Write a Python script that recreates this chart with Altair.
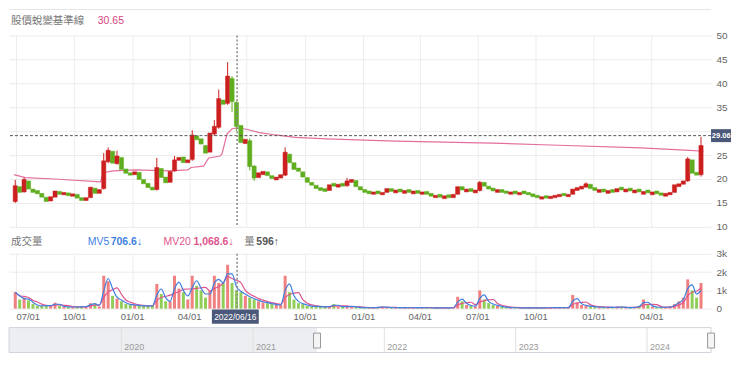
import altair as alt
import pandas as pd

# ---------------- data (weekly candles) ----------------
WEEK0 = "2021-06-30"

opens = [
    15.3, 18.4, 17.3, 19.6, 17.9, 17.6, 17.0, 16.2, 15.4, 16.2,
    17.4, 16.7, 17.1, 16.4, 16.8, 16.1, 15.5, 16.1, 18.1, 17.0,
    18.0, 23.6, 25.8, 23.2, 24.5, 22.1, 21.3, 20.9, 21.4, 19.9,
    19.1, 18.3, 17.8, 22.2, 20.4, 19.3, 21.7, 23.9, 24.6, 23.4,
    24.1, 29.0, 28.4, 27.0, 25.6, 29.4, 30.8, 36.5, 35.8, 41.0,
    36.0, 31.2, 27.4, 28.0, 22.7, 20.3, 20.9, 21.5, 20.7, 19.8,
    20.2, 20.8, 25.2, 23.4, 22.3, 21.5, 20.3, 19.3, 18.7, 18.2,
    18.0, 17.6, 19.1, 18.3, 19.1, 18.6, 19.3, 19.7, 18.4, 17.8,
    17.5, 16.8, 17.5, 16.7, 17.2, 18.0, 17.1, 17.9, 17.0, 17.8,
    16.9, 17.6, 16.8, 17.4, 17.0, 16.1, 16.8, 15.9, 16.7, 16.1,
    16.8, 18.4, 17.3, 18.0, 17.1, 17.6, 19.3, 18.5, 18.1, 17.2,
    17.8, 17.5, 16.8, 17.5, 16.7, 17.5, 17.2, 16.9, 16.6, 15.8,
    16.5, 15.9, 16.1, 16.3, 17.0, 16.3, 16.8, 17.6, 17.9, 18.3,
    18.9, 18.2, 17.2, 17.9, 17.0, 17.8, 17.3, 18.3, 17.3, 18.1,
    17.1, 17.9, 16.8, 17.7, 16.7, 17.5, 17.1, 16.4, 16.7, 17.2,
    18.4, 18.9, 19.6, 24.0, 21.4, 20.9,
]
closes = [
    18.6, 17.2, 19.9, 17.9, 17.2, 16.9, 16.2, 15.3, 16.3, 17.5,
    16.8, 17.2, 16.5, 16.9, 16.0, 15.5, 16.1, 18.3, 17.0, 17.8,
    23.8, 26.0, 23.3, 24.8, 22.0, 21.2, 20.8, 21.5, 19.9, 19.0,
    18.2, 17.7, 22.4, 20.3, 19.2, 21.6, 24.0, 24.5, 23.4, 24.0,
    29.2, 28.2, 27.3, 25.4, 29.6, 31.0, 36.8, 35.6, 41.5, 36.2,
    31.0, 27.6, 28.3, 22.6, 20.2, 21.3, 21.6, 20.7, 20.1, 20.4,
    20.9, 25.6, 23.4, 22.0, 21.6, 20.4, 19.3, 18.7, 18.0, 17.6,
    17.4, 18.8, 18.5, 18.9, 18.5, 19.6, 19.9, 18.4, 17.7, 17.2,
    16.9, 17.3, 16.9, 17.2, 18.0, 17.4, 17.7, 17.3, 17.6, 17.2,
    17.5, 17.0, 17.3, 16.8, 16.4, 16.6, 16.2, 16.5, 16.1, 16.8,
    18.4, 17.7, 17.9, 17.4, 17.7, 19.3, 18.5, 17.9, 17.5, 17.8,
    17.2, 17.0, 17.3, 16.9, 17.2, 16.9, 16.7, 16.3, 16.1, 16.3,
    16.0, 16.4, 16.6, 16.8, 16.5, 16.8, 17.9, 18.2, 18.5, 19.0,
    18.0, 17.6, 17.8, 17.3, 17.6, 17.2, 18.0, 17.7, 17.9, 17.5,
    17.7, 17.3, 17.4, 17.1, 17.3, 16.9, 16.6, 17.0, 17.2, 18.8,
    19.0, 19.6, 24.2, 21.2, 20.8, 27.0,
]
volumes_k = [
    0.9, 0.5, 0.6, 0.45, 0.25, 0.15, 0.15, 0.18, 0.15, 0.33,
    0.15, 0.1, 0.1, 0.08, 0.1, 0.1, 0.12, 0.3, 0.25, 0.12,
    1.8, 1.5, 0.7, 0.55, 0.4, 0.25, 0.22, 0.2, 0.15, 0.15,
    0.15, 0.15, 1.35, 0.8, 0.4, 0.4, 1.8, 1.1, 0.9, 0.5,
    1.8, 1.25, 1.0, 0.6, 1.0, 1.8, 1.4, 1.4, 2.4, 1.4,
    1.0, 0.9, 0.7, 0.6, 0.5, 0.4, 0.35, 0.3, 0.25, 0.2,
    0.2, 1.8, 0.9, 0.5, 0.3, 0.25, 0.15, 0.12, 0.12, 0.1,
    0.1, 0.12, 0.25, 0.12, 0.1, 0.12, 0.12, 0.08, 0.06, 0.05,
    0.05, 0.06, 0.08, 0.1, 0.07, 0.05, 0.05, 0.06, 0.05, 0.05,
    0.05, 0.06, 0.05, 0.05, 0.05, 0.04, 0.05, 0.05, 0.04, 0.06,
    0.65, 0.4, 0.2, 0.15, 0.12, 1.0, 0.5, 0.3, 0.2, 0.15,
    0.1, 0.06, 0.05, 0.05, 0.05, 0.04, 0.05, 0.05, 0.04, 0.05,
    0.05, 0.05, 0.06, 0.05, 0.05, 0.06, 0.75, 0.35, 0.2, 0.15,
    0.12, 0.1, 0.08, 0.07, 0.08, 0.06, 0.1, 0.08, 0.06, 0.06,
    0.08, 0.15, 0.5, 0.2, 0.1, 0.08, 0.07, 0.08, 0.1, 0.25,
    0.4, 0.6, 1.6, 1.0, 0.6, 1.4,
]
wick_weeks = [0, 2, 20, 21, 23, 32, 36, 40, 45, 46, 48, 49, 50, 53, 54, 61, 75, 105, 129, 152, 155]
wick_lows = [15.0, 17.2, 17.8, 23.3, 23.0, 17.6, 21.5, 23.8, 29.0, 30.5, 35.5, 34.0, 30.0, 21.8, 19.6, 20.6, 18.4, 17.4, 18.2, 19.4, 20.5]
wick_highs = [19.8, 20.3, 25.4, 26.6, 25.9, 24.4, 24.8, 30.2, 32.3, 38.7, 44.4, 41.5, 36.2, 28.5, 22.9, 26.6, 20.2, 19.6, 19.3, 24.6, 28.8]

base_dates = [
    "2021-06-28", "2021-07-16", "2021-08-31", "2021-11-12", "2021-11-16", "2021-12-02",
    "2022-01-06", "2022-02-28", "2022-03-30", "2022-04-04", "2022-04-24", "2022-05-02",
    "2022-05-20", "2022-05-23", "2022-05-31", "2022-06-08", "2022-06-15", "2022-07-01",
    "2022-07-21", "2022-08-16", "2022-09-16", "2022-11-05", "2023-02-21", "2023-07-25",
    "2023-10-25", "2024-03-16", "2024-06-01", "2024-06-23",
]
base_values = [
    20.9, 20.3, 20.0, 19.4, 21.3, 21.7,
    21.9, 21.7, 21.9, 22.4, 22.7, 24.4,
    24.8, 25.2, 29.4, 30.5, 30.65, 30.4,
    29.7, 29.2, 28.7, 28.4, 27.9, 27.5,
    27.1, 26.5, 26.0, 25.8,
]

quarter_ticks = [
    "2021-07-01", "2021-10-01", "2022-01-01", "2022-04-01", "2022-07-01", "2022-10-01",
    "2023-01-01", "2023-04-01", "2023-07-01", "2023-10-01", "2024-01-01", "2024-04-01",
]
year_ticks = ["2020-01-01", "2021-01-01", "2022-01-01", "2023-01-01", "2024-01-01"]
year_labels = ["2020", "2021", "2022", "2023", "2024"]
price_ticks = [10, 15, 20, 25, 30, 35, 40, 45, 50]
vol_ticks = [0, 1, 2, 3]

last_price = 29.06
last_price_label = "29.06"
cross_date = "2022-06-16"
cross_label = "2022/06/16"
base_title = "股價蛻變基準線"
base_value_text = "30.65"
vol_title = "成交量"
mv5_name, mv5_text = "MV5", "706.6↓"
mv20_name, mv20_text = "MV20", "1,068.6↓"
vol_name, vol_text = "量", "596↑"
view_start, view_end = "2021-06-28", "2024-06-27"
nav_start = "2019-02-23"

# ---------------- styling ----------------
RED, GREEN = "#cc1f1f", "#5fae1e"
VRED, VGREEN = "#ee6b6b", "#7cc43c"
PINK, MV20C, BLUE, SLATE = "#e46f9e", "#e0558e", "#3f7fe0", "#4b587a"
GRID, TXT = "#ececec", "#666666"
FONT = "Liberation Sans, Noto Sans CJK TC"
W = 704


def dt(s):
    return alt.DateTime(year=int(s[:4]), month=int(s[5:7]), date=int(s[8:10]))


MAIN_DOMAIN = [dt(view_start), dt(view_end)]
NAV_DOMAIN = [dt(nav_start), dt(view_end)]
qvals = [dt(s) for s in quarter_ticks]

dates = pd.date_range(WEEK0, periods=len(closes), freq="7D").strftime("%Y-%m-%d")
df = pd.DataFrame({"date": dates, "open": opens, "close": closes, "vol": volumes_k})
wick_df = pd.DataFrame({
    "date": [dates[w] for w in wick_weeks],
    "low": wick_lows, "high": wick_highs,
    "open": [opens[w] for w in wick_weeks], "close": [closes[w] for w in wick_weeks],
})
base_df = pd.DataFrame({"date": base_dates, "value": base_values})
lp_df = pd.DataFrame({"p": [last_price], "label": [last_price_label]})
cross_df = pd.DataFrame({"date": [cross_date], "label": [cross_label]})
one = pd.DataFrame({"a": [0]})

UP = "datum.close >= datum.open"


def label(text, x, y, color, size=10.5, weight="normal"):
    return alt.Chart(pd.DataFrame({"t": [text]})).mark_text(
        align="left", baseline="middle", fontSize=size, color=color, fontWeight=weight
    ).encode(x=alt.value(x), y=alt.value(y), text="t:N")


# ---------------- header ----------------
header = alt.layer(
    alt.Chart(one).mark_rule(color="#e6e6e6").encode(x=alt.value(0), x2=alt.value(W), y=alt.value(0)),
    label(base_title, 2, 12, "#777777", 10.5),
    label(base_value_text, 89, 12, "#d6457f", 10.5),
).properties(width=W, height=26)

# ---------------- price panel ----------------
x_grid_axis = alt.Axis(values=qvals, grid=True, gridColor=GRID, labels=False, ticks=False,
                       domain=False, title=None)
price_scale = alt.Scale(domain=[10, 50], nice=False, zero=False)
price_axis = alt.Axis(orient="right", values=price_ticks, grid=True, gridColor=GRID, ticks=False,
                      domain=False, labelColor=TXT, labelFontSize=10, labelPadding=5, title=None,
                      labelExpr="datum.value == 30 ? '' : datum.label")


def xp(f):
    return alt.X(f"{f}:T", scale=alt.Scale(domain=MAIN_DOMAIN), axis=x_grid_axis, title=None)


def yp(f):
    return alt.Y(f"{f}:Q", scale=price_scale, axis=price_axis, title=None)


col = alt.condition(UP, alt.value(RED), alt.value(GREEN))

baseline = alt.Chart(base_df).mark_line(color=PINK, strokeWidth=1.2).encode(x=xp("date"), y=yp("value"))
wicks = alt.Chart(wick_df).mark_rule(strokeWidth=1).encode(x=xp("date"), y=yp("low"), y2="high", color=col)
bodies = alt.Chart(df).mark_bar(size=4.2, strokeWidth=0.5).encode(
    x=xp("date"), y=yp("open"), y2="close", color=col, stroke=col)
last_rule = alt.Chart(lp_df).mark_rule(color="#555555", strokeDash=[3, 2], strokeWidth=1).encode(y=yp("p"))
cross_rule_p = alt.Chart(cross_df).mark_rule(color="#888888", strokeDash=[2, 2], strokeWidth=1.5).encode(x=xp("date"))
lp_box = alt.Chart(lp_df).mark_point(
    shape="M-1,-0.65L1,-0.65L1,0.65L-1,0.65Z", size=400, filled=True, opacity=1, color=SLATE
).encode(x=alt.value(W + 10), y=yp("p"))
lp_text = alt.Chart(lp_df).mark_text(
    align="left", baseline="middle", color="white", fontSize=7.6, fontWeight="bold"
).encode(x=alt.value(W + 0.8), y=yp("p"), text="label:N")

price = alt.layer(baseline, wicks, bodies, last_rule, cross_rule_p, lp_box, lp_text).properties(width=W, height=192)

# ---------------- volume header ----------------
vol_header = alt.layer(
    label(vol_title, 2, 15, "#777777", 10.5),
    label(mv5_name, 79, 15, BLUE, 10.5),
    label(mv5_text, 102, 15, BLUE, 10.5, "bold"),
    label(mv20_name, 155, 15, MV20C, 10.5),
    label(mv20_text, 185, 15, MV20C, 10.5, "bold"),
    label(vol_name, 236, 15, "#777777", 10.5),
    label(vol_text, 248, 15, "#555555", 10.5, "bold"),
).properties(width=W, height=27)

# ---------------- volume panel ----------------
x_bottom_axis = alt.Axis(
    values=qvals, format="%m/%d", grid=True, gridColor=GRID, ticks=False, domain=False,
    labelColor=TXT, labelFontSize=9.5, labelPadding=3, title=None,
    labelAlign={"condition": {"test": "year(datum.value) == 2021 && month(datum.value) == 6", "value": "left"},
                "value": "center"},
    labelExpr="timeFormat(datum.value, '%Y%m') == '202207' ? '' : datum.label")
vol_scale = alt.Scale(domain=[0, 3], nice=False)
vol_axis = alt.Axis(orient="right", values=vol_ticks, grid=True, gridColor=GRID, ticks=False, domain=False,
                    labelColor=TXT, labelFontSize=10, labelPadding=5, title=None,
                    labelExpr="datum.value == 0 ? '0' : datum.value + 'k'")


def xv(f):
    return alt.X(f"{f}:T", scale=alt.Scale(domain=MAIN_DOMAIN), axis=x_bottom_axis, title=None)


def yv(f):
    return alt.Y(f"{f}:Q", scale=vol_scale, axis=vol_axis, title=None)


vol_bars = alt.Chart(df).mark_bar(size=3, opacity=0.85).encode(
    x=xv("date"), y=yv("vol"), color=alt.condition(UP, alt.value(VRED), alt.value(VGREEN)))
mv5 = alt.Chart(df).transform_window(
    mv5="mean(vol)", frame=[-1, 0], sort=[alt.SortField("date")]
).mark_line(color=BLUE, strokeWidth=1.2, interpolate="monotone").encode(x=xv("date"), y=yv("mv5"))
mv20 = alt.Chart(df).transform_window(
    mv20="mean(vol)", frame=[-3, 0], sort=[alt.SortField("date")]
).mark_line(color=MV20C, strokeWidth=1.2, interpolate="monotone").encode(x=xv("date"), y=yv("mv20"))
cross_rule_v = alt.Chart(cross_df).mark_rule(color="#888888", strokeDash=[2, 2], strokeWidth=1.5).encode(x=xv("date"))

volume = alt.layer(vol_bars, mv20, mv5, cross_rule_v).properties(width=W, height=55)


# ---------------- crosshair date label ----------------
def xs(f):
    return alt.X(f"{f}:T", scale=alt.Scale(domain=MAIN_DOMAIN), axis=None)


spacer = alt.layer(
    alt.Chart(cross_df).mark_point(shape="M-1,-0.3L1,-0.3L1,0.3L-1,0.3Z", size=2209, filled=True,
                                   opacity=1, color=SLATE).encode(x=xs("date"), y=alt.value(8)),
    alt.Chart(cross_df).mark_text(color="white", fontSize=8.5, baseline="middle").encode(
        x=xs("date"), y=alt.value(8), text="label:N"),
).properties(width=W, height=19)


# ---------------- navigator ----------------
def xn(f):
    return alt.X(f"{f}:T", scale=alt.Scale(domain=NAV_DOMAIN), axis=None)


sel_df = pd.DataFrame({"start": [nav_start], "end": [view_start]})
year_df = pd.DataFrame({"date": year_ticks, "label": year_labels})
handle_df = pd.DataFrame({"date": [view_start, view_end]})

nav = alt.layer(
    alt.Chart(sel_df).mark_rect(color="#eceef1").encode(x=xn("start"), x2="end", y=alt.value(0), y2=alt.value(25)),
    alt.Chart(year_df).mark_rule(color="#e0e0e0").encode(x=xn("date")),
    alt.Chart(year_df).mark_text(align="left", dx=3, baseline="middle", fontSize=9, color="#999999").encode(
        x=xn("date"), y=alt.value(19), text="label:N"),
    alt.Chart(one).mark_rect(fillOpacity=0, stroke="#d0d5db", strokeWidth=1).encode(
        x=alt.value(0), x2=alt.value(W), y=alt.value(0), y2=alt.value(25)),
    alt.Chart(handle_df).mark_point(shape="M-1,-2.14L1,-2.14L1,2.14L-1,2.14Z", size=49, filled=True,
                                    fill="#f5f5f5", stroke="#9a9a9a", strokeWidth=1, opacity=1).encode(
        x=xn("date"), y=alt.value(13)),
).properties(width=W, height=25)

chart = alt.vconcat(
    header, price, vol_header, volume, spacer, nav, spacing=0, bounds="flush"
).resolve_scale(x="independent").properties(
    padding={"left": 0, "top": 0, "right": 0, "bottom": 0}
).configure(font=FONT).configure_view(stroke="transparent")

chart.save("out.html", embed_options={"renderer": "svg", "actions": False})
